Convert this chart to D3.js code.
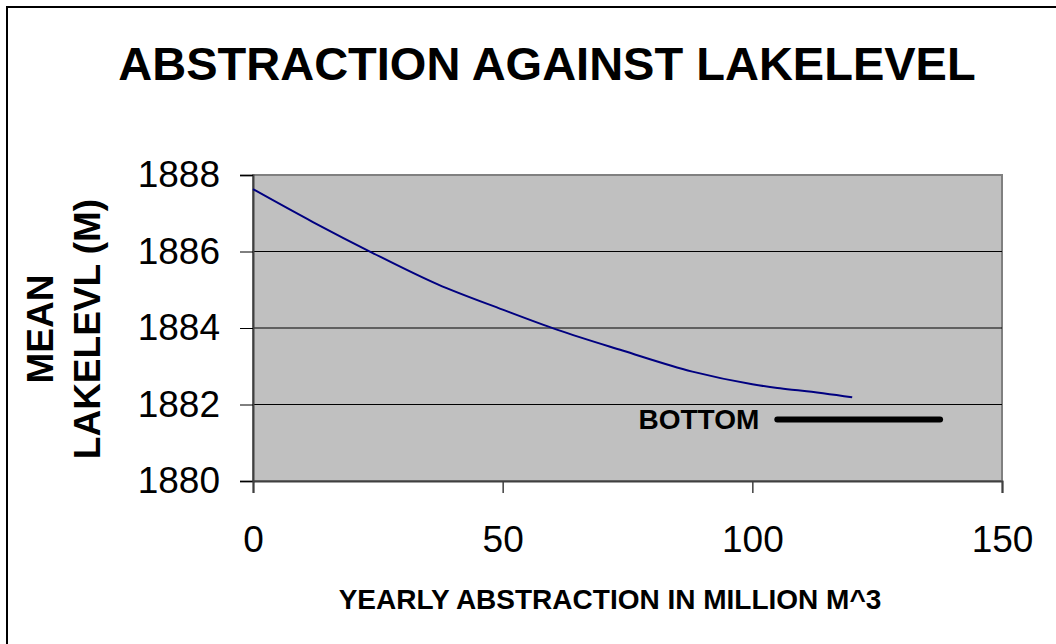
<!DOCTYPE html>
<html>
<head>
<meta charset="utf-8">
<script src="https://cdn.jsdelivr.net/npm/d3@7"></script>
<style>
  html, body { margin: 0; padding: 0; background: #fff; }
  svg { display: block; font-family: "Liberation Sans", Arial, sans-serif; }
</style>
</head>
<body>
<svg id="chart" width="1056" height="644"></svg>
<script>
// Yearly abstraction (million m^3) and the resulting mean lake level (m)
const abstraction = [0, 12, 24, 37, 50, 61, 74, 88, 100, 105, 110, 120];
const lakeLevel   = [1887.63, 1886.77, 1885.96, 1885.14, 1884.48, 1883.95, 1883.41, 1882.86, 1882.53, 1882.43, 1882.36, 1882.19];

// Lake bottom reference line
const bottomX = [105, 137.6];
const bottomLevel = [1881.61, 1881.61];
const bottomLabel = "BOTTOM";

const xTicks = [0, 50, 100, 150];
const yTicks = [1880, 1882, 1884, 1886, 1888];

const titleText = "ABSTRACTION AGAINST LAKELEVEL";
const xTitle = "YEARLY ABSTRACTION IN MILLION M^3";
const yTitleLines = ["MEAN", "LAKELEVL (M)"];

const svg = d3.select("#chart");
const plot = { left: 253, top: 175, right: 1002, bottom: 481 };

const x = d3.scaleLinear().domain([0, 150]).range([plot.left, plot.right]);
const y = d3.scaleLinear().domain([1880, 1888]).range([plot.bottom, plot.top]);

// Outer chart frame
svg.append("rect")
  .attr("x", 7).attr("y", 7).attr("width", 1070).attr("height", 660)
  .attr("fill", "#fff").attr("stroke", "#000").attr("stroke-width", 2);

// Plot area background
svg.append("rect")
  .attr("x", plot.left).attr("y", plot.top)
  .attr("width", plot.right - plot.left).attr("height", plot.bottom - plot.top)
  .attr("fill", "#c0c0c0").attr("stroke", "#808080").attr("stroke-width", 2);

// Horizontal gridlines
svg.append("g").selectAll("line")
  .data(yTicks.filter(d => d > 1880 && d < 1888))
  .join("line")
  .attr("x1", plot.left).attr("x2", plot.right)
  .attr("y1", d => y(d)).attr("y2", d => y(d))
  .attr("stroke", "#000").attr("stroke-width", 1);

// Y axis
const yAxis = svg.append("g")
  .attr("transform", `translate(${plot.left},0)`)
  .call(d3.axisLeft(y).tickValues(yTicks).tickFormat(d3.format("d")).tickSize(13).tickPadding(20));
yAxis.select(".domain").attr("stroke", "#404040").attr("stroke-width", 2);
yAxis.selectAll(".tick line").attr("stroke", "#000").attr("stroke-width", 1);
yAxis.selectAll(".tick text")
  .attr("font-size", 37).attr("fill", "#000")
  .attr("font-family", "Liberation Sans, Arial, sans-serif");

// X axis
const xAxis = svg.append("g")
  .attr("transform", `translate(0,${plot.bottom})`)
  .call(d3.axisBottom(x).tickValues(xTicks).tickFormat(d3.format("d")).tickSize(12).tickPadding(33));
xAxis.select(".domain").attr("stroke", "#404040").attr("stroke-width", 2);
xAxis.selectAll(".tick line").attr("stroke", "#404040").attr("stroke-width", 1.5);
xAxis.selectAll(".tick text")
  .attr("font-size", 37).attr("fill", "#000")
  .attr("font-family", "Liberation Sans, Arial, sans-serif");

// Lake level curve
const line = d3.line().x(d => x(d[0])).y(d => y(d[1])).curve(d3.curveMonotoneX);
svg.append("path")
  .datum(abstraction.map((a, i) => [a, lakeLevel[i]]))
  .attr("d", line)
  .attr("fill", "none").attr("stroke", "#000080").attr("stroke-width", 2);

// Bottom reference line and its label
const bottomPts = bottomX.map((a, i) => [a, bottomLevel[i]]);
svg.append("path")
  .datum(bottomPts)
  .attr("d", d3.line().x(d => x(d[0])).y(d => y(d[1])))
  .attr("fill", "none").attr("stroke", "#000").attr("stroke-width", 6)
  .attr("stroke-linecap", "round");
svg.append("text")
  .attr("x", x(bottomX[0]) - 18).attr("y", y(bottomLevel[0]) + 10)
  .attr("text-anchor", "end").attr("font-size", 28).attr("font-weight", "bold")
  .text(bottomLabel);

// Chart title
svg.append("text")
  .attr("x", 547).attr("y", 80)
  .attr("text-anchor", "middle").attr("font-size", 47).attr("font-weight", "bold")
  .text(titleText);

// X axis title
svg.append("text")
  .attr("x", 610).attr("y", 609)
  .attr("text-anchor", "middle").attr("font-size", 28).attr("font-weight", "bold")
  .text(xTitle);

// Y axis title (two rotated lines)
svg.append("g").selectAll("text")
  .data(yTitleLines)
  .join("text")
  .attr("transform", (d, i) => `translate(${53 + i * 47},329) rotate(-90)`)
  .attr("text-anchor", "middle").attr("font-size", 37).attr("font-weight", "bold")
  .text(d => d);
</script>
</body>
</html>
